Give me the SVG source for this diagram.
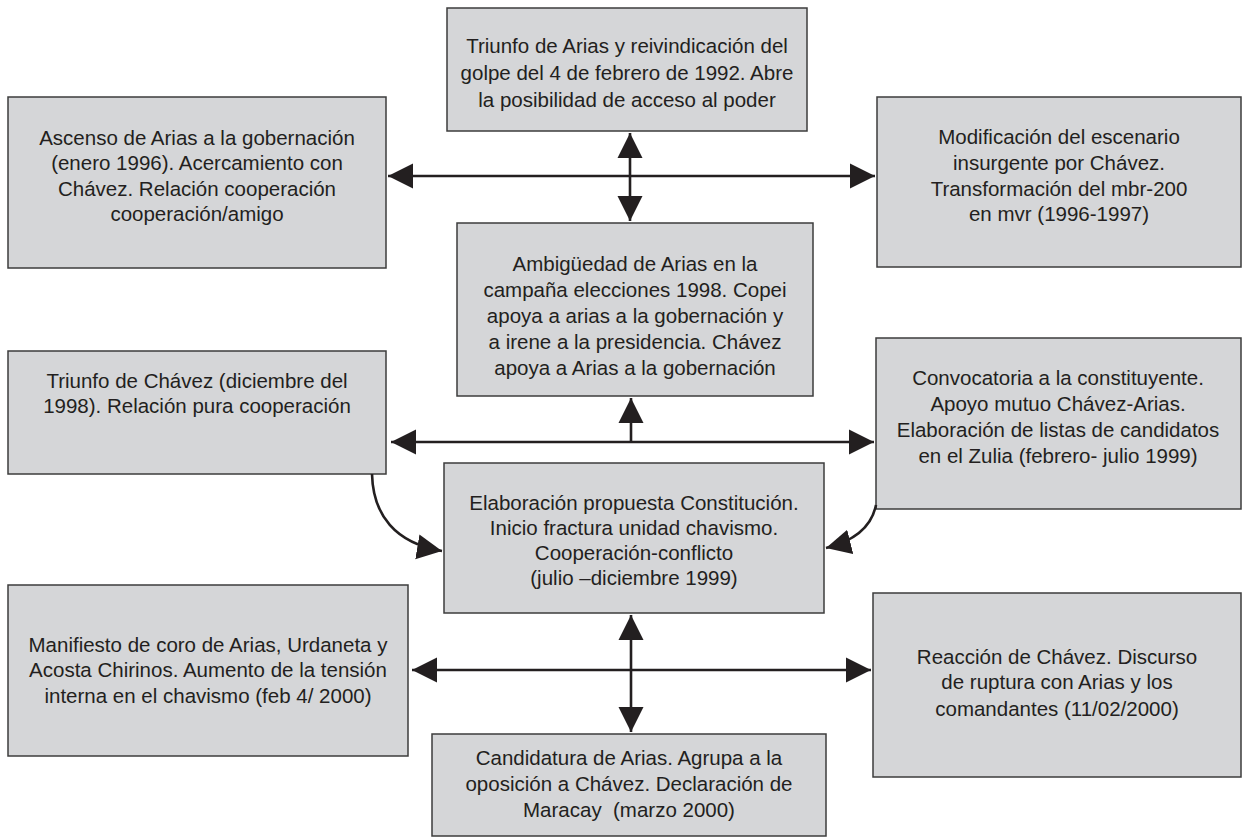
<svg xmlns="http://www.w3.org/2000/svg" width="1251" height="840" viewBox="0 0 1251 840">
<style>
.box{fill:#d5d6d8;stroke:#3c3c3c;stroke-width:1.5}
.t{font-family:"Liberation Sans",Arial,sans-serif;font-size:20.5px;fill:#231f20;text-anchor:middle}
.c{fill:none;stroke:#231f20;stroke-width:2.6}
</style>
<defs>
<marker id="ah" markerUnits="userSpaceOnUse" markerWidth="27" markerHeight="26" refX="25" refY="12.5" orient="auto" viewBox="0 0 27 25">
<path d="M0,0 L25,12.5 L0,25 z" fill="#231f20"/>
</marker>
</defs>
<rect width="1251" height="840" fill="#ffffff"/>
<g id="n-top"><rect class="box" x="447" y="8" width="360" height="123"/>
<text class="t" x="627" y="53">Triunfo de Arias y reivindicación del</text>
<text class="t" x="627" y="80">golpe del 4 de febrero de 1992. Abre</text>
<text class="t" x="627" y="107">la posibilidad de acceso al poder</text></g>
<g id="n-left1"><rect class="box" x="8" y="97" width="378" height="171"/>
<text class="t" x="197" y="145">Ascenso de Arias a la gobernación</text>
<text class="t" x="197" y="170">(enero 1996). Acercamiento con</text>
<text class="t" x="197" y="196">Chávez. Relación cooperación</text>
<text class="t" x="197" y="221">cooperación/amigo</text></g>
<g id="n-right1"><rect class="box" x="877" y="97" width="364" height="170"/>
<text class="t" x="1059" y="144">Modificación del escenario</text>
<text class="t" x="1059" y="170">insurgente por Chávez.</text>
<text class="t" x="1059" y="196">Transformación del mbr-200</text>
<text class="t" x="1059" y="221">en mvr (1996-1997)</text></g>
<g id="n-mid1"><rect class="box" x="457" y="223" width="356" height="173"/>
<text class="t" x="635" y="271">Ambigüedad de Arias en la</text>
<text class="t" x="635" y="297">campaña elecciones 1998. Copei</text>
<text class="t" x="635" y="323">apoya a arias a la gobernación y</text>
<text class="t" x="635" y="349">a irene a la presidencia. Chávez</text>
<text class="t" x="635" y="375">apoya a Arias a la gobernación</text></g>
<g id="n-left2"><rect class="box" x="8" y="351" width="378" height="123"/>
<text class="t" x="197" y="388">Triunfo de Chávez (diciembre del</text>
<text class="t" x="197" y="413">1998). Relación pura cooperación</text></g>
<g id="n-right2"><rect class="box" x="876" y="338" width="365" height="171"/>
<text class="t" x="1058" y="385">Convocatoria a la constituyente.</text>
<text class="t" x="1058" y="411">Apoyo mutuo Chávez-Arias.</text>
<text class="t" x="1058" y="437">Elaboración de listas de candidatos</text>
<text class="t" x="1058" y="463">en el Zulia (febrero- julio 1999)</text></g>
<g id="n-mid2"><rect class="box" x="444" y="463" width="380" height="150"/>
<text class="t" x="634" y="510">Elaboración propuesta Constitución.</text>
<text class="t" x="634" y="535">Inicio fractura unidad chavismo.</text>
<text class="t" x="634" y="560">Cooperación-conflicto</text>
<text class="t" x="634" y="585">(julio –diciembre 1999)</text></g>
<g id="n-left3"><rect class="box" x="8" y="585" width="400" height="171"/>
<text class="t" x="208" y="652">Manifiesto de coro de Arias, Urdaneta y</text>
<text class="t" x="208" y="677">Acosta Chirinos. Aumento de la tensión</text>
<text class="t" x="208" y="703">interna en el chavismo (feb 4/ 2000)</text></g>
<g id="n-right3"><rect class="box" x="873" y="593" width="368" height="184"/>
<text class="t" x="1057" y="664">Reacción de Chávez. Discurso</text>
<text class="t" x="1057" y="689">de ruptura con Arias y los</text>
<text class="t" x="1057" y="716">comandantes (11/02/2000)</text></g>
<g id="n-bottom"><rect class="box" x="432" y="734" width="394" height="102"/>
<text class="t" x="629" y="765">Candidatura de Arias. Agrupa a la</text>
<text class="t" x="629" y="791">oposición a Chávez. Declaración de</text>
<text class="t" x="629" y="817">Maracay&#160; (marzo 2000)</text></g>
<g id="connectors">
<path class="c" d="M631,176 L388,176" marker-end="url(#ah)"/>
<path class="c" d="M631,176 L875,176" marker-end="url(#ah)"/>
<path class="c" d="M630,176 L630,133" marker-end="url(#ah)"/>
<path class="c" d="M630,176 L630,221" marker-end="url(#ah)"/>
<path class="c" d="M631,442 L391,442" marker-end="url(#ah)"/>
<path class="c" d="M631,442 L874,442" marker-end="url(#ah)"/>
<path class="c" d="M631,442 L631,398" marker-end="url(#ah)"/>
<path class="c" d="M631,670 L412,670" marker-end="url(#ah)"/>
<path class="c" d="M631,670 L871,670" marker-end="url(#ah)"/>
<path class="c" d="M631,670 L631,615" marker-end="url(#ah)"/>
<path class="c" d="M631,670 L631,732" marker-end="url(#ah)"/>
<path class="c" d="M372,474 C373,515 395,543 442,551" marker-end="url(#ah)"/>
<path class="c" d="M876,505 C872,525 858,540 826,548" marker-end="url(#ah)"/>
</g>
</svg>
